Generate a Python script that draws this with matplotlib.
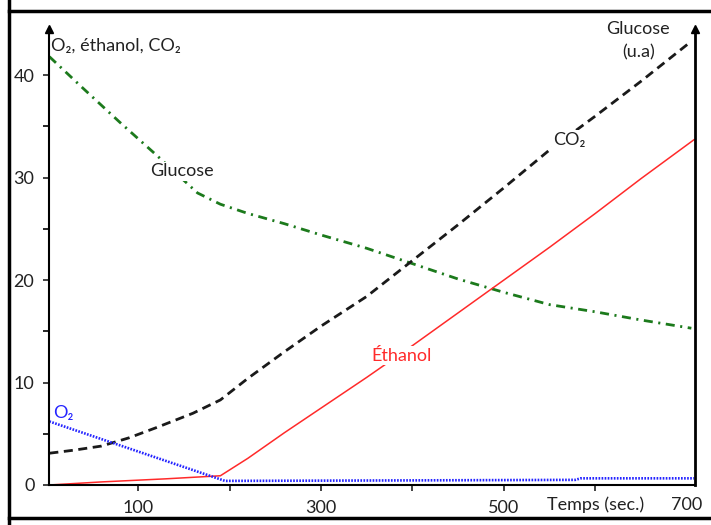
#FERMENTATION CURVES
import matplotlib
matplotlib.use('Agg')
import matplotlib.pyplot as plt
from matplotlib.lines import Line2D

plt.rcParams['font.family'] = ['Lato', 'DejaVu Sans']
plt.rcParams['lines.scale_dashes'] = False

#DATA
# time in seconds
glucose_t = [3, 40, 80, 120, 165, 190, 220, 260, 300, 350, 400, 450, 500, 550, 600, 650, 705]
glucose_v = [41.8, 38.7, 35.4, 32.2, 28.5, 27.4, 26.5, 25.5, 24.4, 23.1, 21.6, 20.1, 18.8, 17.6, 16.9, 16.1, 15.3]

co2_t = [3, 30, 60, 90, 120, 160, 190, 220, 260, 300, 350, 400, 450, 500, 550, 600, 650, 705]
co2_v = [3.1, 3.4, 3.8, 4.6, 5.6, 7.0, 8.3, 10.4, 13.0, 15.5, 18.4, 21.9, 25.4, 29.0, 32.7, 36.0, 39.4, 43.3]

ethanol_t = [3, 60, 130, 190, 220, 260, 300, 350, 400, 450, 500, 550, 600, 650, 708]
ethanol_v = [0.0, 0.3, 0.6, 0.9, 2.6, 5.1, 7.5, 10.5, 13.6, 16.8, 20.0, 23.2, 26.5, 29.9, 33.7]

o2_t = [3, 195, 400, 578, 584, 708]
o2_v = [6.2, 0.4, 0.45, 0.5, 0.65, 0.65]

x_ticks = [100, 200, 300, 400, 500, 600]
x_labels = ['100', '', '300', '', '500', '']
y_ticks = [0, 10, 20, 30, 40]

#FIGURE
fig = plt.figure(figsize=(7.11, 5.25), dpi=100)
ax = fig.add_axes([0.0689, 0.0762, 0.9086, 0.8686])

ax.plot(glucose_t, glucose_v, color='#1c7a1c', lw=2.0, dashes=[6.5, 4, 1.5, 4])
ax.plot(co2_t, co2_v, color='#1a1a1a', lw=2.0, dashes=[6.5, 4])
ax.plot(ethanol_t, ethanol_v, color='#ff2a2a', lw=1.1)
ax.plot(o2_t, o2_v, color='#2424ff', lw=1.9, dashes=[1.2, 1.0])

ax.set_xlim(2.6, 709)
ax.set_ylim(0, 44.5)

# axes: only left, right and bottom, with arrows on top
ax.spines['top'].set_visible(False)
for s in ['left', 'bottom']:
    ax.spines[s].set_linewidth(1.5)
ax.spines['right'].set_linewidth(2.0)
ax.plot([0, 1], [1, 1], '^', color='black', markersize=6, transform=ax.transAxes, clip_on=False)

ax.set_xticks(x_ticks)
ax.set_xticklabels(x_labels)
ax.set_yticks(y_ticks)
ax.set_yticks([5, 15, 25, 35], minor=True)
ax.tick_params(axis='both', direction='out', length=4.5, width=1.2, labelsize=13, colors='#222222')
ax.tick_params(axis='y', which='minor', direction='out', length=4.5, width=1.2)
ax.tick_params(axis='y', pad=6)
ax.tick_params(axis='x', pad=6)
ax.tick_params(right=False)

#TEXT
ax.text(700, -1.15, '700', ha='center', va='top', fontsize=13, color='#222222')
ax.text(600, -1.15, 'Temps (sec.)', ha='center', va='top', fontsize=13, color='#222222')
ax.text(5, 42.9, 'O₂, éthanol, CO₂', ha='left', va='center', fontsize=13, color='#222222')
ax.text(0.912, 0.974, 'Glucose\n(u.a)', transform=ax.transAxes, ha='center', va='center',
        fontsize=13, color='#222222', linespacing=1.6)
ax.text(148, 30.6, 'Glucose', ha='center', va='center', fontsize=13, color='#222222',
        bbox=dict(facecolor='white', edgecolor='none', pad=1))
ax.text(572, 33.7, 'CO₂', ha='center', va='center', fontsize=13, color='#222222',
        bbox=dict(facecolor='white', edgecolor='none', pad=1))
ax.text(388, 12.6, 'Éthanol', ha='center', va='center', fontsize=13, color='#ff2a2a',
        bbox=dict(facecolor='white', edgecolor='none', pad=1))
ax.text(18, 7.0, 'O₂', ha='center', va='center', fontsize=13, color='#2424ff')

# outer frame of the picture
fig.add_artist(Line2D([9 / 711, 9 / 711], [0, 1], color='black', lw=2.5))
fig.add_artist(Line2D([9 / 711, 1], [1 - 11 / 525, 1 - 11 / 525], color='black', lw=2.5))
fig.add_artist(Line2D([9 / 711, 1], [7 / 525, 7 / 525], color='black', lw=2.5))

plt.savefig('out.png', dpi=100)
